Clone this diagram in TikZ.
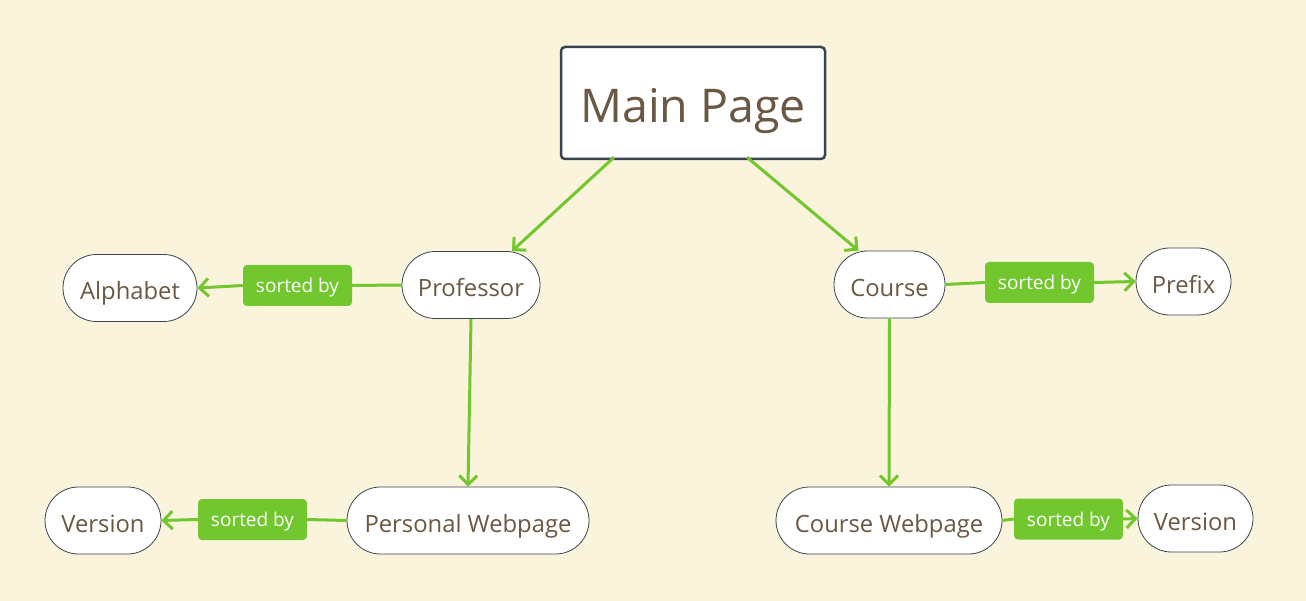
\documentclass[tikz,border=0pt]{standalone}
\usepackage{fontspec}
\setmainfont{Open Sans}
\usetikzlibrary{arrows.meta,shapes.misc,calc}
\definecolor{bgcream}{HTML}{FAF4DD}
\definecolor{txtbrown}{HTML}{6B5842}
\definecolor{linkgreen}{HTML}{72C72E}
\definecolor{edgegray}{HTML}{3A4450}
\tikzset{
  mainbox/.style={draw=edgegray, line width=2.5pt, fill=white, rounded corners=4pt,
    minimum width=264pt, minimum height=112pt, inner sep=0pt,
    text height=40pt, text depth=0pt,
    text=txtbrown, font=\fontsize{46.5}{50}\selectfont},
  topic/.style={rounded rectangle, draw=edgegray, line width=0.8pt, fill=white,
    minimum height=67pt, inner sep=0pt, text height=24pt, text depth=0pt,
    text=txtbrown, font=\fontsize{23.8}{28}\selectfont},
  tag/.style={fill=linkgreen, rounded corners=4pt, minimum width=109pt,
    minimum height=41pt, inner sep=0pt, text height=14pt, text depth=0pt,
    text=white, font=\fontsize{19}{22}\selectfont},
  link/.style={draw=linkgreen, line width=3pt},
  arrowlink/.style={link, -{Straight Barb[length=9pt,width=18pt]}},
}
\begin{document}
\begin{tikzpicture}[x=1pt,y=-1pt]
  \fill[bgcream] (0,0) rectangle (1306,601);
  \useasboundingbox (0,0) rectangle (1306,601);

  % central page
  \node[mainbox] (main) at (693,103) {Main Page};

  % first level
  \node[topic, minimum width=138pt] (prof) at (471,285) {Professor};
  \node[topic, minimum width=111pt] (course) at (889.5,284.5) {Course};

  % sorting targets
  \node[topic, minimum width=134pt] (alpha) at (130,288) {Alphabet};
  \node[topic, minimum width=95pt] (prefix) at (1183.5,281.5) {Prefix};

  % webpages
  \node[topic, minimum width=242pt] (pweb) at (468,520.5) {Personal Webpage};
  \node[topic, minimum width=226pt] (cweb) at (889,520.5) {Course Webpage};
  \node[topic, minimum width=116pt] (verl) at (103,520.5) {Version};
  \node[topic, minimum width=115pt] (verr) at (1195.5,518.5) {Version};

  % relation tags
  \node[tag] (tagA) at (297.5,285.5) {sorted by};
  \node[tag] (tagB) at (1039.5,282.5) {sorted by};
  \node[tag] (tagC) at (252.5,519.5) {sorted by};
  \node[tag] (tagD) at (1068.5,519) {sorted by};

  % hierarchy arrows
  \draw[arrowlink] ([xshift=-79pt,yshift=3pt]main.south) -- ([xshift=41pt]prof.north);
  \draw[arrowlink] ([xshift=54pt,yshift=3pt]main.south) -- ([xshift=-31pt]course.north);
  \draw[arrowlink] (prof.south) -- (pweb.north);
  \draw[arrowlink] (course.south) -- (cweb.north);

  % sorted-by relations
  \draw[link] (prof.west) -- (tagA.east);
  \draw[arrowlink] (tagA.west) -- (alpha.east);
  \draw[link] (course.east) -- (tagB.west);
  \draw[arrowlink] (tagB.east) -- (prefix.west);
  \draw[link] (pweb.west) -- (tagC.east);
  \draw[arrowlink] (tagC.west) -- (verl.east);
  \draw[link] (cweb.east) -- (tagD.west);
  \draw[arrowlink] (tagD.east) -- (verr.west);
\end{tikzpicture}
\end{document}
